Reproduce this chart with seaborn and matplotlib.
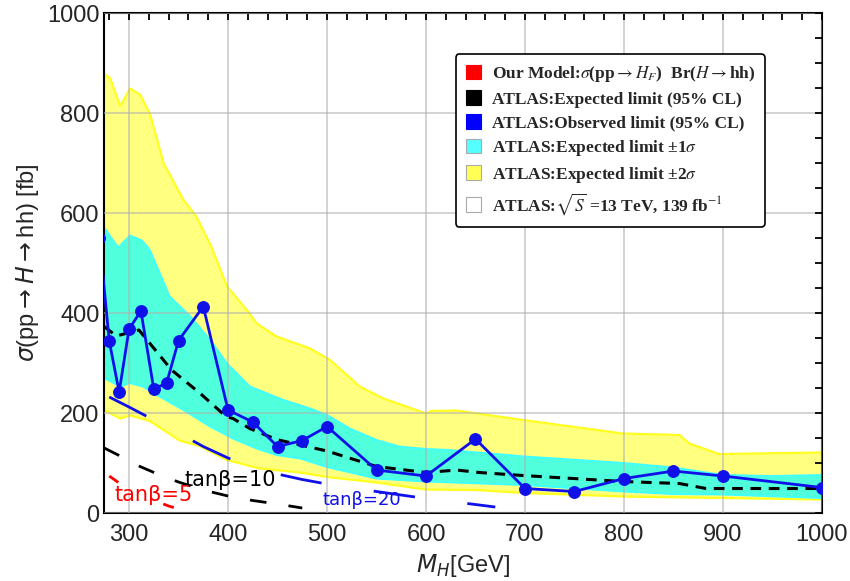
import matplotlib
matplotlib.use("Agg")
import matplotlib.pyplot as plt
import matplotlib.patches as mpatches
from matplotlib.font_manager import FontProperties
from matplotlib.ticker import MultipleLocator
import numpy as np
import seaborn as sns

# ATLAS expected limit +-2 sigma band (yellow)
m_2s_up = [275, 281, 291, 301, 311, 321, 335, 355, 368, 383, 399, 419, 429, 449, 483, 503,
           533, 557, 600, 605, 631, 698, 799, 856, 866, 896, 1000]
s_2s_up = [878, 869, 814, 849, 837, 799, 699, 626, 593, 533, 453, 406, 379, 353, 329, 306,
           253, 229, 199, 204, 205, 186, 159, 156, 139, 118, 121]
m_2s_lo = [275, 291, 301, 321, 351, 371, 399, 432, 473, 500, 550, 600, 650, 700, 800, 900, 1000]
s_2s_lo = [206, 189, 195, 184, 145, 134, 106, 89, 81, 72, 61, 47, 46, 40, 33, 30, 27]

# ATLAS expected limit +-1 sigma band (cyan)
m_1s_up = [275, 289, 301, 313, 321, 341, 362, 382, 399, 422, 456, 483, 500, 523, 550, 573,
           600, 623, 700, 800, 850, 900, 950, 1000]
s_1s_up = [570, 531, 555, 545, 526, 433, 393, 346, 299, 253, 226, 209, 196, 169, 146, 133,
           128, 126, 113, 100, 91, 76, 74, 76]
m_1s_lo = [275, 291, 301, 314, 331, 355, 382, 405, 429, 449, 473, 500, 550, 600, 700, 800,
           850, 900, 1000]
s_1s_lo = [270, 253, 260, 253, 233, 206, 173, 149, 129, 116, 109, 92, 69, 63, 56, 43, 38, 37, 30]

# ATLAS expected limit (95% CL)
m_exp = [275, 287, 310, 343, 372, 398, 405, 422, 449, 500, 550, 600, 631, 654, 698, 749,
         799, 856, 883, 1000]
s_exp = [373, 354, 366, 286, 239, 193, 189, 169, 147, 124, 93, 81, 86, 81, 75, 69, 63, 59, 49, 49]

# ATLAS observed limit (95% CL)
m_obs = [270, 280, 290, 300, 312, 325, 338, 350, 375, 400, 425, 450, 475, 500, 550, 600,
         650, 700, 750, 800, 850, 900, 1000]
s_obs = [550, 344, 242, 368, 404, 248, 260, 345, 413, 206, 182, 133, 145, 173, 86, 74,
         148, 49, 43, 69, 84, 74, 51]

# our model, sigma x Br for several tan(beta)
m_tb5 = [280, 290, 300, 320, 340, 350]
s_tb5 = [74, 60, 48, 29, 14, 8]
m_tb10 = [275, 290, 310, 330, 350, 375, 400, 425, 450, 475]
s_tb10 = [130, 115, 94, 77, 62, 46, 34, 25, 18, 10]
m_tb20 = [280, 300, 325, 350, 375, 400, 425, 450, 475, 500, 550, 600, 650, 670]
s_tb20 = [232, 212, 186, 160, 133, 110, 92, 78, 67, 58, 43, 29, 17, 12]

legend_labels = [
    r'Our Model:$\sigma$(pp$\rightarrow H_F$)  Br($H\rightarrow$hh)',
    'ATLAS:Expected limit (95% CL)',
    'ATLAS:Observed limit (95% CL)',
    r'ATLAS:Expected limit ±1$\sigma$',
    r'ATLAS:Expected limit ±2$\sigma$',
    r'ATLAS:$\sqrt{S}$ =13 TeV, 139 fb$^{-1}$',
]
legend_colors = ['#ff0000', '#000000', '#0000ff', '#55ffff', '#ffff55', '#ffffff']

sns.set_style("white")
plt.rcParams['font.family'] = ['Liberation Sans', 'DejaVu Sans']
plt.rcParams['mathtext.fontset'] = 'dejavusans'

fig, ax = plt.subplots(figsize=(8.5, 5.81), dpi=100)
fig.subplots_adjust(left=0.1227, right=0.967, bottom=0.117, top=0.9776)

# bands
grid_m = np.union1d(m_2s_up, m_2s_lo)
ax.fill_between(grid_m, np.interp(grid_m, m_2s_lo, s_2s_lo), np.interp(grid_m, m_2s_up, s_2s_up),
                color='#ffff80', lw=0, zorder=1)
ax.plot(m_2s_up, s_2s_up, color='#ffff20', lw=1.6, zorder=1.1)
ax.plot(m_2s_lo, s_2s_lo, color='#ffff20', lw=1.6, zorder=1.1)
grid_c = np.union1d(m_1s_up, m_1s_lo)
ax.fill_between(grid_c, np.interp(grid_c, m_1s_lo, s_1s_lo), np.interp(grid_c, m_1s_up, s_1s_up),
                color='#50ffdc', lw=0, zorder=1.2)
ax.plot(m_1s_up, s_1s_up, color='#40ffff', lw=1.4, zorder=1.3)
ax.plot(m_1s_lo, s_1s_lo, color='#40ffff', lw=1.4, zorder=1.3)

# limits
sns.lineplot(x=m_exp, y=s_exp, ax=ax, color='black', lw=2.2, linestyle=(0, (3.5, 2.5)),
             zorder=3)
sns.lineplot(x=m_obs, y=s_obs, ax=ax, color='#1010e8', lw=2.0, marker='o', markersize=8.5,
             mec='#1010e8', mfc='#1010e8', zorder=4)

# model curves
sns.lineplot(x=m_tb5, y=s_tb5, ax=ax, color='red', lw=2.0, linestyle=(0, (4, 18)), zorder=3)
sns.lineplot(x=m_tb10, y=s_tb10, ax=ax, color='black', lw=2.0, linestyle=(0, (6, 8)), zorder=3)
sns.lineplot(x=m_tb20, y=s_tb20, ax=ax, color='#1010e8', lw=2.0, linestyle=(0, (15, 19)), zorder=3)

ax.text(325, 36, 'tanβ=5', color='red', fontsize=15, ha='center', va='center',
        family=['DejaVu Sans'])
ax.text(402, 66, 'tanβ=10', color='black', fontsize=15, ha='center', va='center',
        family=['DejaVu Sans'])
ax.text(535, 26, 'tanβ=20', color='#1010e8', fontsize=13, ha='center', va='center',
        family=['DejaVu Sans'])

ax.set_xlim(275, 1000)
ax.set_ylim(0, 1000)
ax.xaxis.set_major_locator(MultipleLocator(100))
ax.xaxis.set_minor_locator(MultipleLocator(20))
ax.yaxis.set_major_locator(MultipleLocator(200))
ax.yaxis.set_minor_locator(MultipleLocator(50))
ax.tick_params(which='both', direction='in', top=True, right=True, length=5, width=1.3,
               labelsize=17, color='black')
ax.tick_params(axis='x', pad=8)
ax.grid(True, which='major', color='#b0b0b0', lw=1.3, alpha=0.6)
ax.set_axisbelow(False)
for sp in ax.spines.values():
    sp.set_color('black')
    sp.set_linewidth(1.5)

ax.set_xlabel(r'$M_H$[GeV]', fontsize=17)
ax.set_ylabel(r'$\sigma$(pp$\rightarrow H \rightarrow$hh) [fb]', fontsize=17)

handles = [mpatches.Patch(facecolor=c,
                          edgecolor='#aaaaaa' if c in ('#ffffff', '#55ffff', '#ffff55') else c,
                          lw=0.8) for c in legend_colors]
prop = FontProperties(family='Liberation Serif', weight='bold', size=12.5, math_fontfamily='stix')
leg = ax.legend(handles, legend_labels, loc='upper left', bbox_to_anchor=(0.478, 0.935),
                prop=prop, handlelength=0.9, handleheight=0.9, handletextpad=0.6,
                labelspacing=0.38, borderpad=0.55, fancybox=True, framealpha=1,
                edgecolor='black')
leg.get_frame().set_linewidth(1.2)
leg.set_zorder(10)

plt.savefig('out.png', dpi=100)
plt.close()
